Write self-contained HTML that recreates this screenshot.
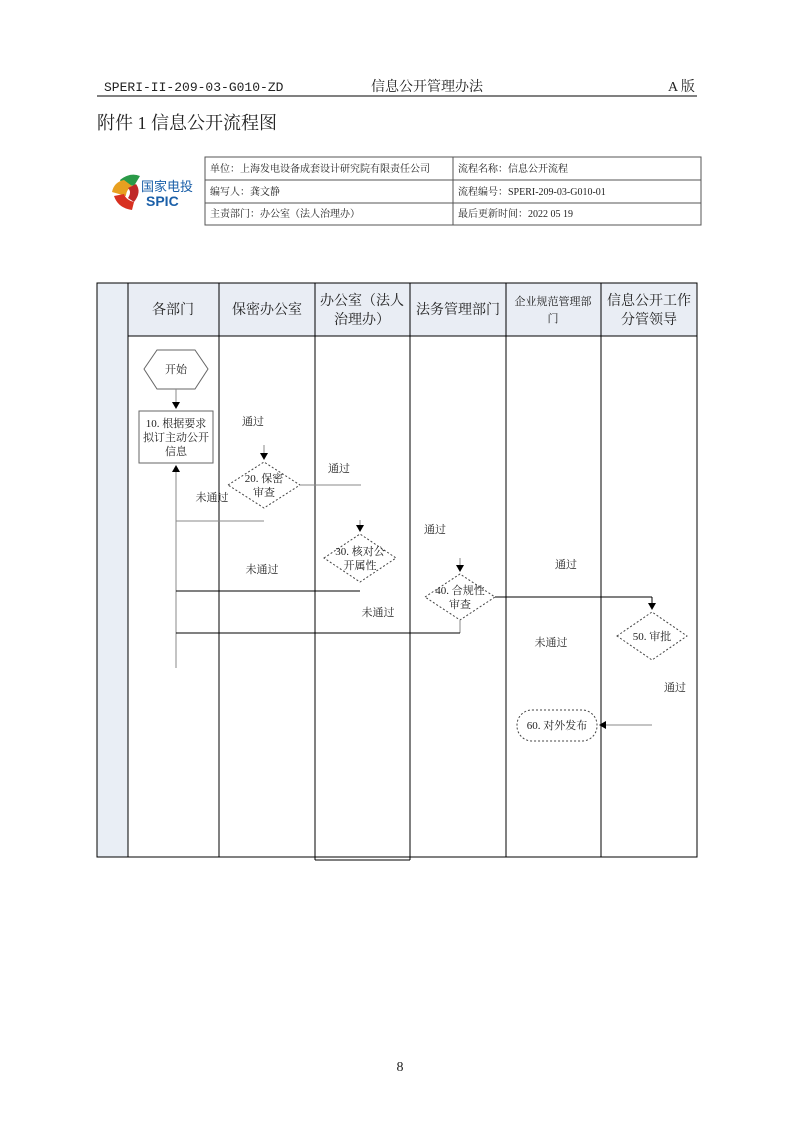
<!DOCTYPE html>
<html><head><meta charset="utf-8"><style>
body{margin:0;background:#fff;}
svg text{font-family:"Liberation Serif","Noto Serif CJK SC",serif;fill:#222;}
</style></head><body>
<svg width="800" height="1131" viewBox="0 0 800 1131" xmlns="http://www.w3.org/2000/svg">
<defs><marker id="a" markerWidth="8" markerHeight="8" refX="6" refY="4" orient="auto" markerUnits="userSpaceOnUse"><path d="M0,0L7,4L0,8z" fill="#000"/></marker></defs>
<text x="104" y="91" font-size="13" style="font-family:'Liberation Mono',monospace">SPERI-II-209-03-G010-ZD</text>
<text x="427" y="91" font-size="14" text-anchor="middle">信息公开管理办法</text>
<text x="668" y="91" font-size="14">A 版</text>
<line x1="97" y1="96" x2="697" y2="96" stroke="#000" stroke-width="1"/>
<text x="97" y="129" font-size="18">附件 1 信息公开流程图</text>
<!-- logo -->
<path d="M120,180 q10,-8 20,-4 l-6,10 q-6,-2 -10,4 z" fill="#2a9a48"/>
<path d="M112,192 q2,-10 12,-12 l8,6 q-6,4 -6,10 z" fill="#e8a020"/>
<path d="M114,196 q4,12 18,14 l2,-8 q-8,-2 -10,-8 z" fill="#d83020"/>
<path d="M136,184 q6,8 -2,18 l-6,-4 q4,-6 0,-10z" fill="#c02828"/>
<text x="141" y="191" font-size="13" style="fill:#1a5fa8;font-family:'Liberation Sans','Noto Sans CJK SC',sans-serif">国家电投</text>
<text x="146" y="206" font-size="14" font-weight="bold" style="fill:#1a5fa8;font-family:'Liberation Sans',sans-serif">SPIC</text>
<g stroke="#555" fill="none" stroke-width="1">
<rect x="205" y="157" width="496" height="68"/>
<line x1="205" y1="180" x2="701" y2="180"/><line x1="205" y1="203" x2="701" y2="203"/>
<line x1="453" y1="157" x2="453" y2="225"/>
</g>
<g font-size="10"><text x="210" y="172">单位：上海发电设备成套设计研究院有限责任公司</text>
<text x="458" y="172">流程名称：信息公开流程</text>
<text x="210" y="195">编写人：龚文静</text>
<text x="458" y="195">流程编号：SPERI-209-03-G010-01</text>
<text x="210" y="217">主责部门：办公室（法人治理办）</text>
<text x="458" y="217">最后更新时间：2022 05 19</text></g>
<!-- swimlanes -->
<rect x="97" y="283" width="31" height="574" fill="#e9eef5"/>
<rect x="128" y="283" width="569" height="53" fill="#e9edf4"/>
<g stroke="#000" fill="none" stroke-width="1">
<rect x="97" y="283" width="600" height="574"/>
<line x1="128" y1="283" x2="128" y2="857"/>
<line x1="219" y1="283" x2="219" y2="857"/>
<line x1="315" y1="283" x2="315" y2="860"/>
<line x1="410" y1="283" x2="410" y2="860"/>
<line x1="315" y1="860" x2="410" y2="860"/>
<line x1="506" y1="283" x2="506" y2="857"/>
<line x1="601" y1="283" x2="601" y2="857"/>
<line x1="128" y1="336" x2="697" y2="336"/>
</g>
<g font-size="14" text-anchor="middle">
<text x="173" y="314">各部门</text>
<text x="267" y="314">保密办公室</text>
<text x="362" y="305">办公室（法人</text><text x="362" y="324">治理办）</text>
<text x="458" y="314">法务管理部门</text>
<text x="553" y="305" font-size="11">企业规范管理部</text><text x="553" y="322" font-size="11">门</text>
<text x="649" y="305">信息公开工作</text><text x="649" y="324">分管领导</text>
</g>
<!-- shapes -->
<g stroke="#666" fill="#fff" stroke-width="1">
<polygon points="144,369 157,350 195,350 208,369 195,389 157,389"/>
<rect x="139" y="411" width="74" height="52"/>
</g>
<g stroke="#444" fill="#fff" stroke-width="1" stroke-dasharray="2,2">
<polygon points="228,485 264,462 300,485 264,508"/>
<polygon points="324,558 360,534 396,558 360,582"/>
<polygon points="425,597 460,574 495,597 460,620"/>
<polygon points="617,636 652,612 687,636 652,660"/>
<rect x="517" y="710" width="80" height="31" rx="15"/>
</g>
<g stroke="#888" fill="none" stroke-width="1">
<line x1="176" y1="389" x2="176" y2="408" marker-end="url(#a)"/>
<line x1="176" y1="668" x2="176" y2="466" marker-end="url(#a)"/>
<line x1="264" y1="445" x2="264" y2="459" marker-end="url(#a)"/>
<line x1="300" y1="485" x2="361" y2="485"/>
<line x1="176" y1="521" x2="264" y2="521"/>
<line x1="360" y1="520" x2="360" y2="531" marker-end="url(#a)"/>
<line x1="460" y1="558" x2="460" y2="571" marker-end="url(#a)"/>
<line x1="460" y1="620" x2="460" y2="633"/>
<line x1="652" y1="725" x2="600" y2="725" marker-end="url(#a)"/>
</g>
<g stroke="#000" fill="none" stroke-width="1">
<line x1="176" y1="591" x2="360" y2="591"/>
<line x1="176" y1="633" x2="460" y2="633"/>
<line x1="495" y1="597" x2="652" y2="597"/>
<line x1="652" y1="597" x2="652" y2="609" marker-end="url(#a)"/>
</g>
<g font-size="11" text-anchor="middle">
<text x="176" y="373">开始</text>
<text x="176" y="427">10. 根据要求</text><text x="176" y="441">拟订主动公开</text><text x="176" y="455">信息</text>
<text x="264" y="482">20. 保密</text><text x="264" y="496">审查</text>
<text x="360" y="555">30. 核对公</text><text x="360" y="569">开属性</text>
<text x="460" y="594">40. 合规性</text><text x="460" y="608">审查</text>
<text x="652" y="640">50. 审批</text>
<text x="557" y="729">60. 对外发布</text>
<text x="253" y="425">通过</text>
<text x="339" y="472">通过</text>
<text x="212" y="501">未通过</text>
<text x="262" y="573">未通过</text>
<text x="378" y="616">未通过</text>
<text x="435" y="533">通过</text>
<text x="566" y="568">通过</text>
<text x="551" y="646">未通过</text>
<text x="675" y="691">通过</text>
</g>
<text x="400" y="1071" font-size="14" text-anchor="middle">8</text>
</svg>
</body></html>
